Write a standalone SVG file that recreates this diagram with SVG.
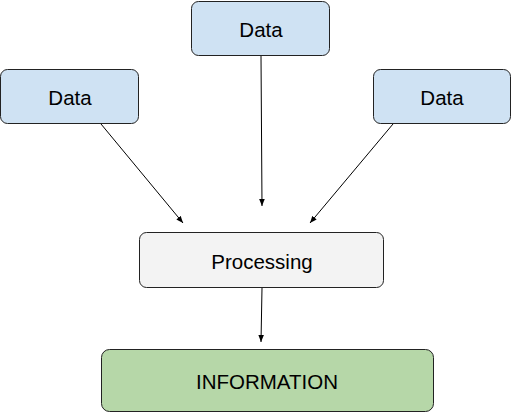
<svg xmlns="http://www.w3.org/2000/svg" width="512" height="413" viewBox="0 0 512 413">
<style>
.box{stroke:#222;stroke-width:1}
.data{fill:#cfe2f3}
.proc{fill:#f3f3f3}
.info{fill:#b6d7a8}
text{font-family:"Liberation Sans",Arial,sans-serif;font-size:20.5px;fill:#000;text-anchor:middle;dominant-baseline:central}
.conn line{stroke:#000;stroke-width:1;marker-end:url(#ah)}
</style>
<defs>
<marker id="ah" viewBox="0 0 10 10" refX="10" refY="5" markerWidth="7" markerHeight="7" markerUnits="userSpaceOnUse" orient="auto">
<path d="M0,1 L10,5 L0,9 z" fill="#000"/>
</marker>
</defs>
<rect width="512" height="413" fill="#fff"/>
<g class="conn">
<line x1="261" y1="56" x2="262" y2="206"/>
<line x1="101" y1="124" x2="183" y2="223"/>
<line x1="393" y1="124" x2="310" y2="223"/>
<line x1="262" y1="288" x2="261" y2="342"/>
</g>
<g id="data-top"><rect class="box data" x="191.5" y="1.5" width="138" height="54" rx="7"/><text x="261" y="29">Data</text></g>
<g id="data-left"><rect class="box data" x="0.5" y="69.5" width="138" height="54" rx="7"/><text x="70" y="97">Data</text></g>
<g id="data-right"><rect class="box data" x="373.5" y="69.5" width="137" height="54" rx="7"/><text x="442" y="97">Data</text></g>
<g id="processing"><rect class="box proc" x="139.5" y="232.5" width="244" height="55" rx="7"/><text x="262" y="261">Processing</text></g>
<g id="information"><rect class="box info" x="101.5" y="349.5" width="332" height="62" rx="8"/><text x="267" y="381">INFORMATION</text></g>
</svg>
